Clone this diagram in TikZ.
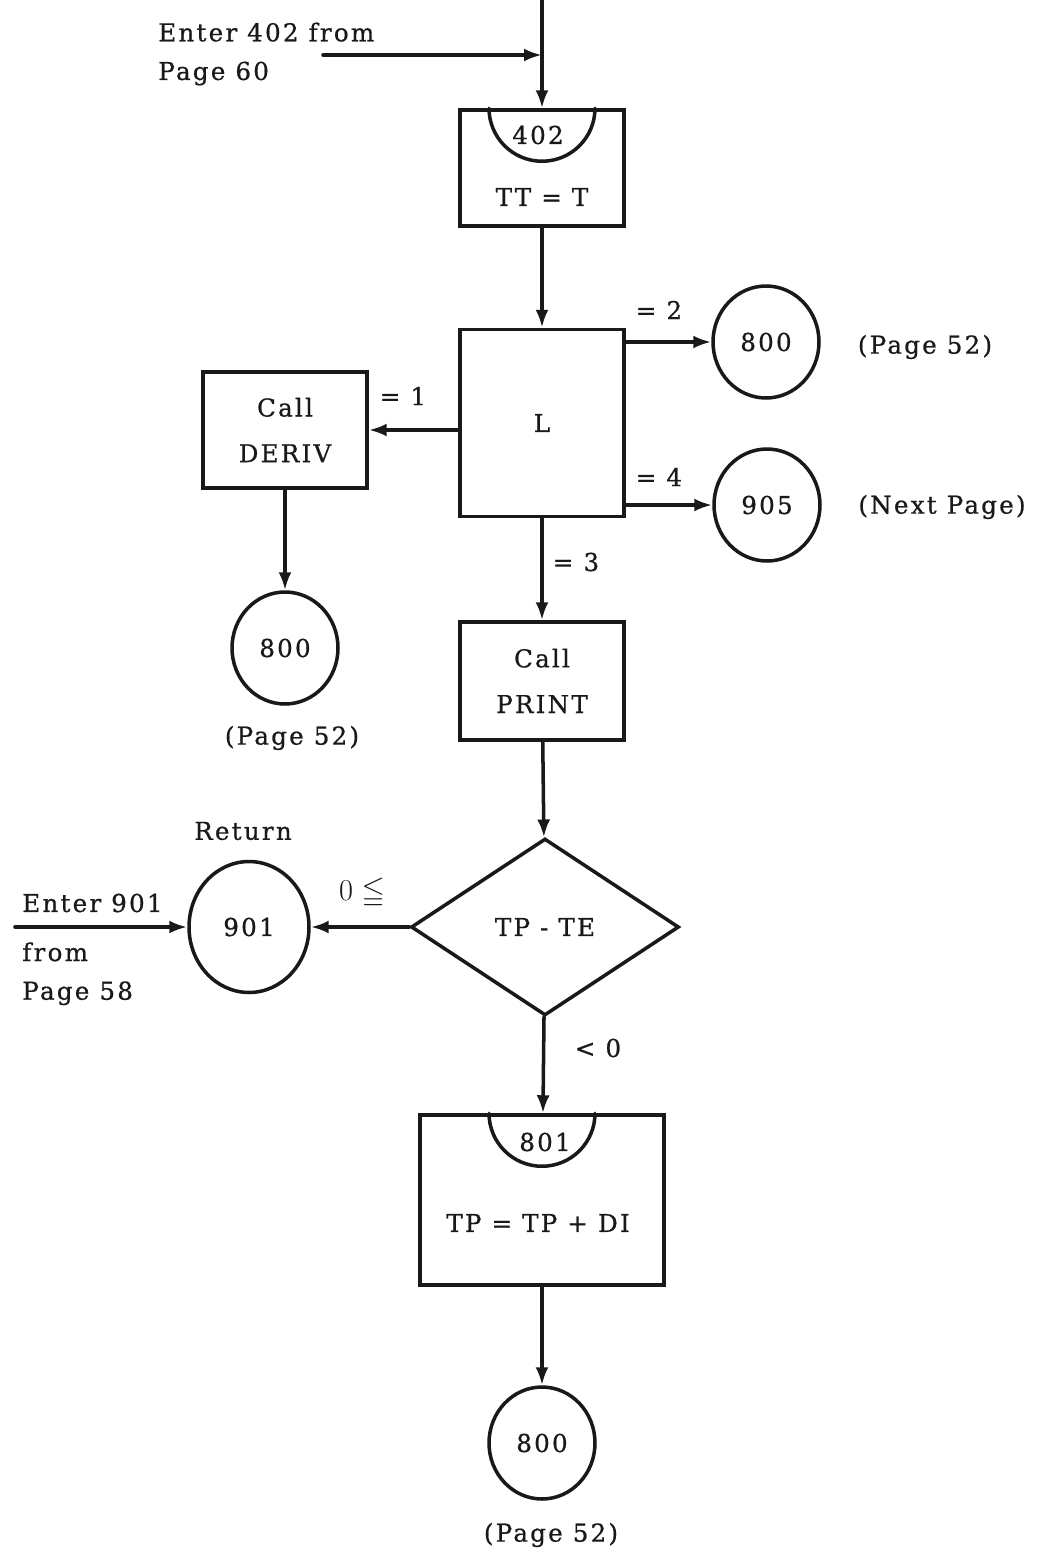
\documentclass[tikz,border=0pt]{standalone}
\usepackage{amssymb}
\usepackage{fontspec}
\setmainfont{DejaVu Serif}[LetterSpace=9, FakeBold=0.7]
\usepackage{tikz}
\usetikzlibrary{arrows.meta, shapes.geometric}
\definecolor{inkc}{RGB}{25,25,25}

\begin{document}
\begin{tikzpicture}[x=0.02cm, y=-0.02cm, >={Latex[length=3.6mm, width=2.6mm]},
    font=\fontsize{14}{22}\selectfont, inkc, line cap=round,
    flow/.style={->, line width=2pt},
    procbox/.style={draw, line width=2pt, minimum width=3.28cm, minimum height=2.32cm, align=center, inner sep=0pt},
    connc/.style={draw, ellipse, line width=2pt, minimum width=2.12cm, minimum height=2.24cm, inner sep=0pt},
    txt/.style={inner sep=0pt, align=left}]
  \useasboundingbox (0,0) rectangle (1037,1555);
  \def\rs{1.06cm}

  % entry at 402 from the top
  \coordinate (top) at (542,0);
  \coordinate (in402) at (323,55);
  \coordinate (join402) at (542,55);
  \node[txt, anchor=west] (tin402) at (158,54) {Enter 402 from\\Page 60};

  % 402 : TT = T
  \node[procbox] (b402) at (542,168) {};
  \draw[line width=2pt] ([xshift=-\rs]b402.north) arc[start angle=180, end angle=360, radius=\rs];
  \node (n402) at (538,135) {402};
  \node (t402) at (542,197) {TT = T};

  % branch on L
  \node[procbox, minimum height=3.74cm] (bL) at (542,423) {L};
  \node[connc] (c800r) at (766,342) {800};
  \node[connc] (c905) at (767,505) {905};
  \node[txt] (p800r) at (925,347) {(Page 52)};
  \node[txt] (p905) at (942,507) {(Next Page)};
  \node[procbox] (bDeriv) at (285,430) {Call\\[4pt]DERIV};
  \node[connc] (c800l) at (285,648) {800};
  \node[txt] (p800l) at (292,738) {(Page 52)};
  \node[procbox, minimum height=2.36cm] (bPrint) at (542,681) {Call\\[4pt]PRINT};

  % test TP - TE
  \node[draw, diamond, line width=2pt, minimum width=5.36cm, minimum height=3.54cm, inner sep=0pt] (dTP) at (545,927) {TP - TE};
  \node[connc, minimum width=2.4cm, minimum height=2.62cm] (c901) at (249,927) {901};
  \node[txt] (tret) at (243,831) {Return};
  \coordinate (in901) at (15,927);
  \node[txt, anchor=west] (tin901) at (22,903) {Enter 901};
  \node[txt, anchor=north west] (tfrom) at (22,942) {from\\Page 58};

  % 801 : TP = TP + DI
  \node[procbox, minimum width=4.88cm, minimum height=3.4cm] (b801) at (542,1200) {};
  \draw[line width=2pt] ([xshift=-\rs]b801.north) arc[start angle=180, end angle=360, radius=\rs];
  \node (n801) at (545,1142) {801};
  \node (t801) at (538,1223) {TP = TP + DI};
  \node[connc] (c800b) at (542,1443) {800};
  \node[txt] (p800b) at (551,1535) {(Page 52)};

  % connectors
  \draw[line width=2pt] (top) -- (join402);
  \draw[flow] (join402) -- (b402);
  \draw[flow] (in402) -- (join402);
  \draw[flow] (b402) -- (bL);
  \draw[flow] (bL.east |- c800r) -- (c800r);
  \draw[flow] (bL.east |- c905) -- (c905);
  \draw[flow] (bL.west |- bDeriv) -- (bDeriv);
  \draw[flow] (bDeriv) -- (c800l);
  \draw[flow] (bL) -- (bPrint);
  \draw[flow] (bPrint) -- (dTP);
  \draw[flow] (dTP) -- (c901);
  \draw[flow] (in901) -- (c901);
  \draw[flow] (dTP) -- (b801);
  \draw[flow] (b801) -- (c800b);

  % branch labels
  \node[txt] (l2) at (659,310) {= 2};
  \node[txt] (l4) at (659,477) {= 4};
  \node[txt] (l1) at (403,396) {= 1};
  \node[txt] (l3) at (576,562) {= 3};
  \node[txt, font=\fontsize{17}{17}\selectfont] (lge) at (362,893) {$0 \leqq$};
  \node[txt] (llt) at (598,1048) {< 0};
\end{tikzpicture}
\end{document}
